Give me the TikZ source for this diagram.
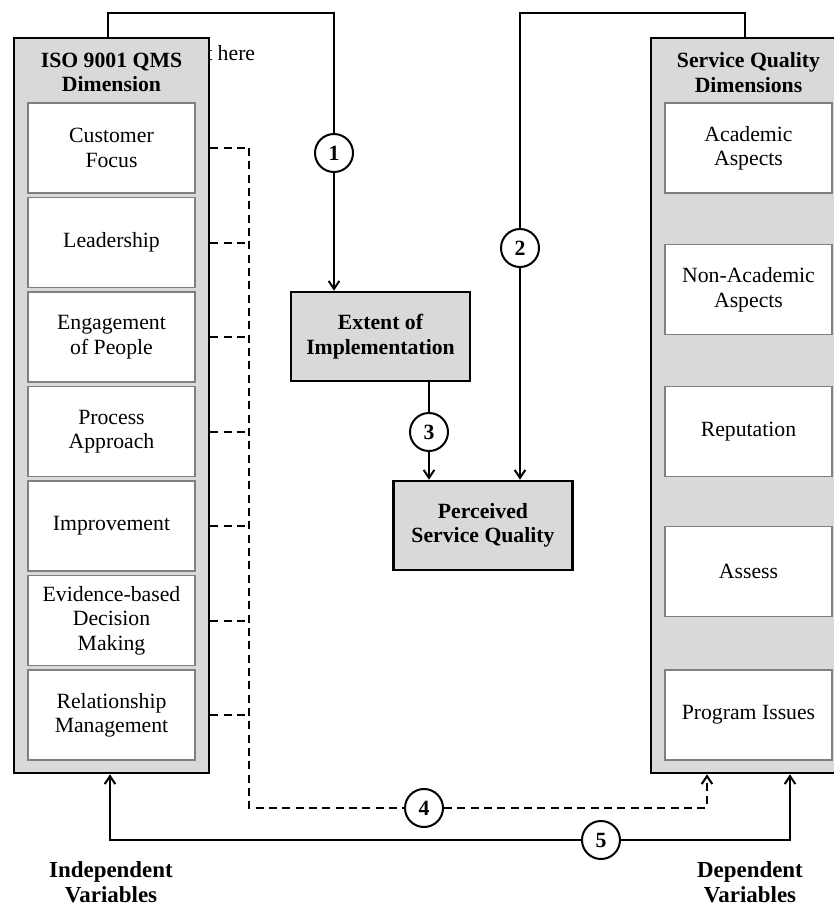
\documentclass[tikz,border=0pt]{standalone}
\usepackage{fontspec}
\setmainfont{Liberation Serif}
\usetikzlibrary{arrows.meta}
\newcommand{\dimfont}{\fontsize{16.3}{18.3}\selectfont}
\newcommand{\varfont}{\fontsize{17.2}{18.6}\selectfont}

\tikzset{
  every node/.style={font=\dimfont, align=center},
  panel/.style={draw=black, fill=gray!30, line width=1.9pt, minimum width=146.25pt, minimum height=551.25pt, inner sep=0pt},
  dimbox/.style={draw=black!50, fill=white, line width=0.9pt, minimum width=125.25pt, minimum height=67.5pt, inner sep=1pt},
  keybox/.style={draw=black, fill=gray!30, line width=1.9pt, minimum width=134.25pt, minimum height=66.75pt, font=\dimfont\bfseries},
  numcirc/.style={circle, draw=black, fill=white, line width=1.5pt, minimum size=28.5pt, inner sep=0pt, font=\dimfont\bfseries},
  link/.style={line width=1.5pt},
  linkarrow/.style={link, -{Straight Barb[length=6pt,width=8pt]}},
  dashlink/.style={link, dash pattern=on 6pt off 4pt}
}

\begin{document}
\begin{tikzpicture}[x=0.75pt,y=0.75pt,yscale=-1,xscale=1]
\useasboundingbox (0,0) rectangle (833,908);

% Text Node
\node [anchor=west, inner sep=0pt] (stray) at (206,53) {t here};

%Shape: Panels
\node [panel] (lp) at (111.5,405.5) {};
\node [panel] (rp) at (748.5,405.5) {};
% Text Node
\node [font=\dimfont\bfseries] (lhead) at (111.5,72.5) {ISO 9001 QMS\\Dimension};
\node [font=\dimfont\bfseries] (rhead) at (748.5,72.5) {Service Quality\\Dimensions};

%Shape: QMS boxes
\node [dimbox] (cf) at (111.5,148) {Customer\\Focus};
\node [dimbox] (ld) at (111.5,242.5) {Leadership};
\node [dimbox] (ep) at (111.5,337) {Engagement\\of People};
\node [dimbox] (pa) at (111.5,431.5) {Process\\Approach};
\node [dimbox] (im) at (111.5,526) {Improvement};
\node [dimbox] (eb) at (111.5,620.5) {Evidence-based\\Decision\\Making};
\node [dimbox] (rm) at (111.5,715) {Relationship\\Management};

%Shape: Service quality boxes
\node [dimbox] (aa) at (748.5,148) {Academic\\Aspects};
\node [dimbox] (na) at (748.5,289.75) {Non-Academic\\Aspects};
\node [dimbox] (re) at (748.5,431.5) {Reputation};
\node [dimbox] (as) at (748.5,571.5) {Assess};
\node [dimbox] (pi) at (748.5,715) {Program Issues};

%Shape: Middle boxes
\node [keybox] (ext) at (380.5,336.5) {Extent of\\Implementation};
\node [keybox] (pq) at (483,525.5) {Perceived\\Service Quality};

%Shape: Number circles
\node [numcirc] (c1) at (334,153) {1};
\node [numcirc] (c2) at (520,248) {2};
\node [numcirc] (c3) at (429,432) {3};
\node [numcirc] (c4) at (424,808) {4};
\node [numcirc] (c5) at (601,840) {5};

\coordinate (t1) at (108,13);
\coordinate (t2) at (745,13);
\coordinate (d4) at (249,808);
\coordinate (d4r) at (707,808);
\coordinate (d5l) at (110,840);
\coordinate (d5r) at (790,840);

%Straight Lines: link 1
\draw [link] (t1 |- lp.north) -- (t1) -| (c1);
\draw [linkarrow] (c1) -- (c1 |- ext.north);
%Straight Lines: link 2
\draw [link] (t2 |- rp.north) -- (t2) -| (c2);
\draw [linkarrow] (c2) -- (c2 |- pq.north);
%Straight Lines: link 3
\draw [link] (c3 |- ext.south) -- (c3);
\draw [linkarrow] (c3) -- (c3 |- pq.north);
%Straight Lines: link 4
\foreach \n in {cf,ld,ep,pa,im,eb,rm}
  \draw [dashlink] (\n.east -| lp.east) -- (\n.east -| d4);
\draw [dashlink] (cf.east -| d4) -- (d4) -- (c4);
\draw [dashlink, -{Straight Barb[length=6pt,width=8pt]}] (c4) -- (d4r) -- (d4r |- rp.south);
%Straight Lines: link 5
\draw [linkarrow] (c5) -| (d5l) -- (d5l |- lp.south);
\draw [linkarrow] (c5) -- (d5r) -- (d5r |- rp.south);

% Text Node
\node [font=\varfont\bfseries] (indep) at (111,882) {Independent\\Variables};
\node [font=\varfont\bfseries] (dep) at (750,882) {Dependent\\Variables};

\end{tikzpicture}
\end{document}
